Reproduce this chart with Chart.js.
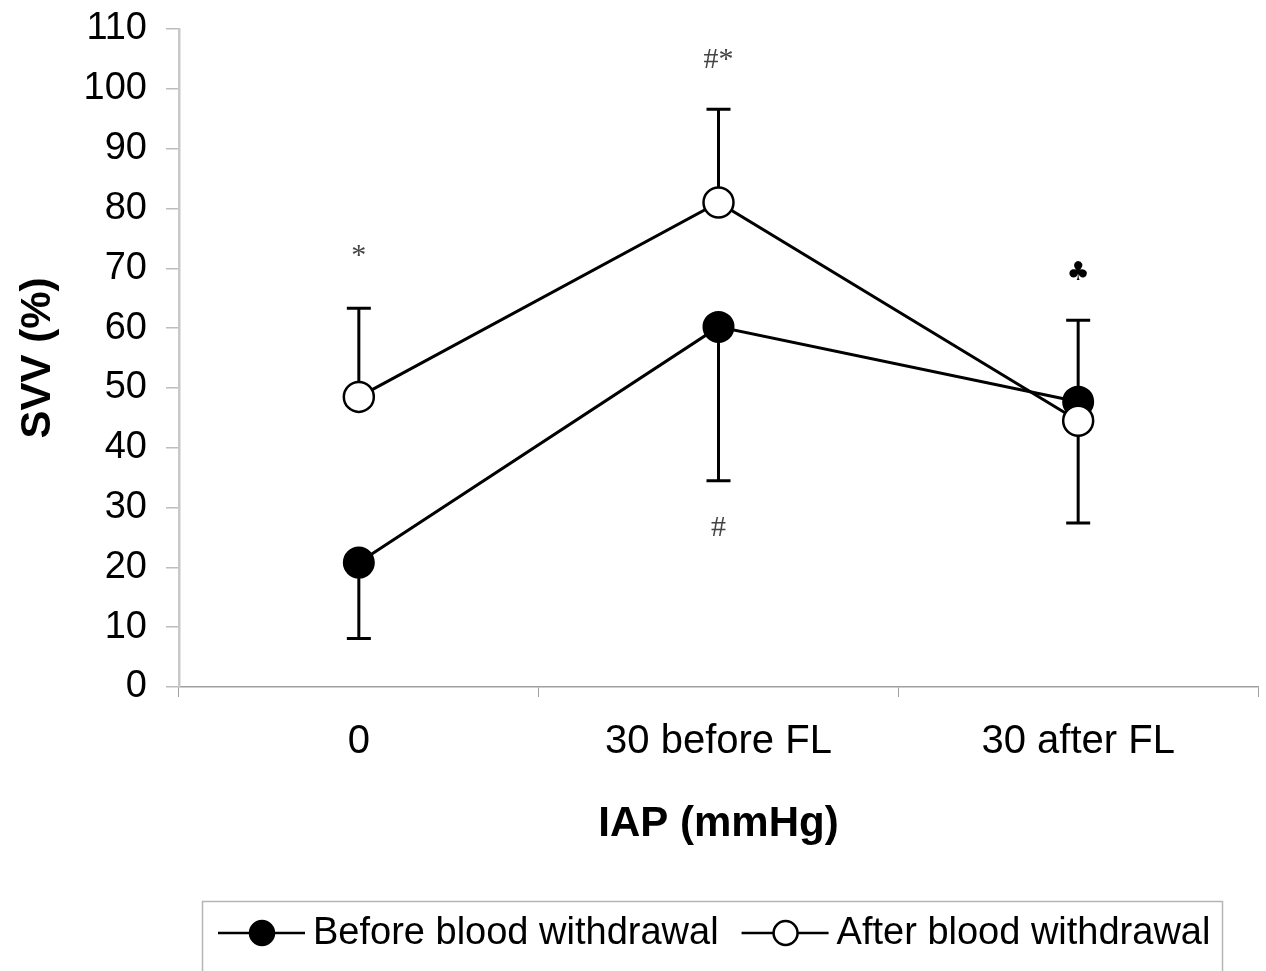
<!DOCTYPE html>
<html>
<head>
<meta charset="utf-8">
<script src="https://cdn.jsdelivr.net/npm/chart.js@4.4.1/dist/chart.umd.min.js"></script>
<style>
  html, body { margin: 0; padding: 0; background: #fff; }
  #wrap { width: 1266px; height: 971px; }
</style>
</head>
<body>
<div id="wrap"><canvas id="svvChart" width="1266" height="971"></canvas></div>
<script>
// values
const categories = ['0', '30 before FL', '30 after FL'];
const beforeMean = [20.8, 60.2, 47.7];
const afterMean = [48.5, 81.0, 44.5];
// one-sided SD bars: value where each bar ends
const beforeBarEnd = [8.1, 34.5, 27.4];
const afterBarEnd = [63.3, 96.6, 61.3];
const yTicks = [0, 110, 10]; // min, max, step

// significance marks above / below the points
const markText = ['*', '#*', '#', '\u2663'];
const markCat = [0, 1, 1, 2];
const markValue = [72.0, 104.8, 26.6, 69.2];

const legendLabels = ['Before blood withdrawal', 'After blood withdrawal'];

const SANS = '"Liberation Sans", Arial, sans-serif';

const errorBars = {
    id: 'errorBars',
    beforeDatasetsDraw(chart) {
        const ctx = chart.ctx;
        const x = chart.scales.x, y = chart.scales.y;
        const sets = [[beforeMean, beforeBarEnd], [afterMean, afterBarEnd]];
        ctx.save();
        ctx.strokeStyle = '#000';
        ctx.lineWidth = 3;
        sets.forEach(([mean, end]) => {
            mean.forEach((m, i) => {
                const px = x.getPixelForValue(i);
                const y0 = y.getPixelForValue(m);
                const y1 = y.getPixelForValue(end[i]);
                ctx.beginPath();
                ctx.moveTo(px, y0);
                ctx.lineTo(px, y1);
                ctx.moveTo(px - 12, y1);
                ctx.lineTo(px + 12, y1);
                ctx.stroke();
            });
        });
        ctx.restore();
    },
    afterDraw(chart) {
        const ctx = chart.ctx;
        const x = chart.scales.x, y = chart.scales.y;
        ctx.save();
        ctx.textAlign = 'center';
        ctx.textBaseline = 'middle';
        markText.forEach((t, i) => {
            if (t === '\u2663') {
                ctx.font = 'bold 26px "DejaVu Sans", sans-serif';
                ctx.fillStyle = '#000';
            } else {
                ctx.font = '30px "Liberation Serif", "Times New Roman", serif';
                ctx.fillStyle = '#444';
            }
            ctx.fillText(t, x.getPixelForValue(markCat[i]), y.getPixelForValue(markValue[i]));
        });

        // legend box
        const top = 901, lineY = 933;
        ctx.strokeStyle = '#b5b5b5';
        ctx.lineWidth = 1.5;
        ctx.strokeRect(202.5, top + 0.5, 1020, 120);
        ctx.font = '38px ' + SANS;
        ctx.textAlign = 'left';
        let cx = 218;
        legendLabels.forEach((label, i) => {
            ctx.strokeStyle = '#000';
            ctx.lineWidth = 2.5;
            ctx.beginPath();
            ctx.moveTo(cx, lineY);
            ctx.lineTo(cx + 87, lineY);
            ctx.stroke();
            ctx.beginPath();
            ctx.arc(cx + 44, lineY, 12, 0, Math.PI * 2);
            ctx.fillStyle = i === 0 ? '#000' : '#fff';
            ctx.fill();
            ctx.stroke();
            ctx.fillStyle = '#000';
            ctx.fillText(label, cx + 95, lineY + 1);
            cx += 95 + ctx.measureText(label).width + 23;
        });
        ctx.restore();
    }
};

new Chart(document.getElementById('svvChart'), {
    type: 'line',
    data: {
        labels: categories,
        datasets: [{
            label: legendLabels[0],
            data: beforeMean,
            borderColor: '#000',
            borderWidth: 3,
            pointRadius: 15,
            pointBackgroundColor: '#000',
            pointBorderColor: '#000',
            pointBorderWidth: 2,
            tension: 0,
            order: 1
        }, {
            label: legendLabels[1],
            data: afterMean,
            borderColor: '#000',
            borderWidth: 3,
            pointRadius: 15,
            pointBackgroundColor: '#fff',
            pointBorderColor: '#000',
            pointBorderWidth: 2.5,
            tension: 0,
            order: 0
        }]
    },
    options: {
        responsive: false,
        animation: false,
        devicePixelRatio: 1,
        layout: { autoPadding: false, padding: { top: 29, right: 8, left: 0, bottom: 0 } },
        plugins: {
            legend: { display: false },
            tooltip: { enabled: false }
        },
        scales: {
            x: {
                type: 'category',
                offset: true,
                grid: { offset: true, drawOnChartArea: false, drawTicks: true, tickLength: 10, color: '#a0a0a0' },
                border: { color: '#a0a0a0', width: 1.5 },
                ticks: { color: '#000', font: { family: SANS, size: 40 }, padding: 21, maxRotation: 0 },
                title: {
                    display: true,
                    text: 'IAP (mmHg)',
                    color: '#000',
                    font: { family: SANS, size: 42, weight: 'bold' },
                    padding: { top: 0, bottom: 121 }
                },
                afterFit: s => {
                    s.height = 284;
                    s.paddingLeft = 0;
                    s.paddingRight = 0;
                }
            },
            y: {
                min: yTicks[0],
                max: yTicks[1],
                ticks: { stepSize: yTicks[2], color: '#000', font: { family: SANS, size: 38 }, padding: 19 },
                grid: { drawOnChartArea: false, drawTicks: true, tickLength: 13, color: '#bdbdbd', lineWidth: 1.5 },
                border: { color: '#c8c8c8', width: 2.5 },
                title: {
                    display: true,
                    text: 'SVV (%)',
                    color: '#000',
                    font: { family: SANS, size: 42, weight: 'bold' },
                    padding: { top: 13, bottom: 0 }
                },
                afterFit: s => {
                    s.width = 179;
                    s.paddingTop = 0;
                    s.paddingBottom = 0;
                }
            }
        }
    },
    plugins: [errorBars]
});
</script>
</body>
</html>
